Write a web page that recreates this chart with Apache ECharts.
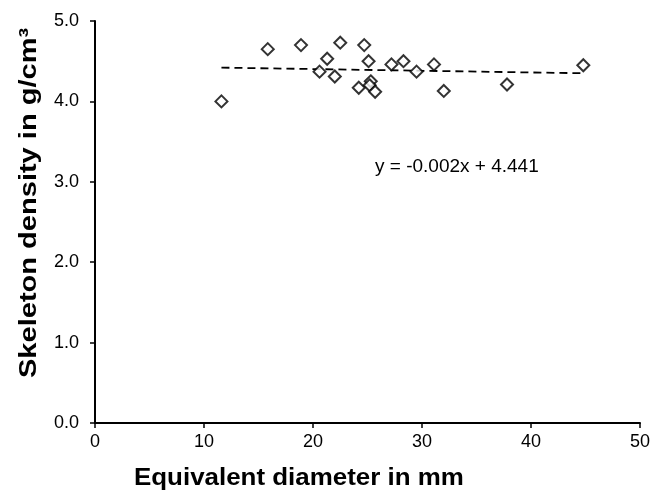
<!DOCTYPE html>
<html><head><meta charset="utf-8">
<script src="https://cdn.jsdelivr.net/npm/echarts@6/dist/echarts.min.js"></script>
<style>html,body{margin:0;padding:0;background:#fff}#c{width:653px;height:492px}</style>
</head><body><div id="c"></div>
<script>
const diameter = [11.6, 15.85, 18.9, 22.5, 24.7, 21.3, 25.1, 20.6, 22.0, 24.2, 25.3, 25.2, 25.7, 27.2, 28.3, 29.5, 31.1, 32.0, 37.8, 44.8];
const density  = [4.00, 4.65, 4.70, 4.73, 4.70, 4.53, 4.50, 4.37, 4.31, 4.17, 4.25, 4.20, 4.12, 4.46, 4.50, 4.37, 4.46, 4.13, 4.21, 4.45];
const trendX = [11.6, 44.8];
const trendY = [4.42, 4.35];
const equationText = 'y = -0.002x + 4.441';
const xTicks = [0, 10, 20, 30, 40, 50];
const yTicks = [0, 1, 2, 3, 4, 5];

const font = 'Liberation Sans, Arial, sans-serif';
const chart = echarts.init(document.getElementById('c'));
chart.setOption({
  animation: false,
  backgroundColor: '#fff',
  grid: {left: 95, right: 8, top: 21, bottom: 69, containLabel: false},
  xAxis: {
    type: 'value', min: xTicks[0], max: xTicks[xTicks.length-1], interval: 10,
    axisLine: {lineStyle: {color: '#000', width: 2}},
    axisTick: {show: true, inside: false, length: 5, lineStyle: {color: '#000', width: 1.5}},
    axisLabel: {color: '#000', fontFamily: font, fontSize: 18, margin: 10},
    splitLine: {show: false}
  },
  yAxis: {
    type: 'value', min: yTicks[0], max: yTicks[yTicks.length-1], interval: 1,
    axisLine: {show: true, lineStyle: {color: '#000', width: 2}},
    axisTick: {show: true, inside: false, length: 5, lineStyle: {color: '#000', width: 1.5}},
    axisLabel: {color: '#000', fontFamily: font, fontSize: 18, margin: 16, formatter: v => v.toFixed(1)},
    splitLine: {show: false}
  },
  graphic: [
    {type: 'text', x: 134, y: 466, scaleX: 1.08, style: {text: 'Equivalent diameter in mm', font: 'bold 24px ' + font, fill: '#000'}},
    {type: 'text', x: 17, y: 378, rotation: Math.PI/2, scaleX: 1.21, style: {text: 'Skeleton density in g/cm³', font: 'bold 24px ' + font, fill: '#000'}},
    {type: 'text', x: 375, y: 157, style: {text: equationText, font: '19px ' + font, fill: '#000'}}
  ],
  series: [
    {
      type: 'line', data: trendX.map((x, i) => [x, trendY[i]]), showSymbol: false, symbol: 'none',
      lineStyle: {color: '#000', width: 1.8, type: [8, 5]}, z: 1
    },
    {
      type: 'scatter', data: diameter.map((x, i) => [x, density[i]]), symbol: 'diamond', symbolSize: [12, 12],
      itemStyle: {color: '#fff', borderColor: '#000', borderWidth: 2}, z: 2
    }
  ]
});
</script></body></html>
